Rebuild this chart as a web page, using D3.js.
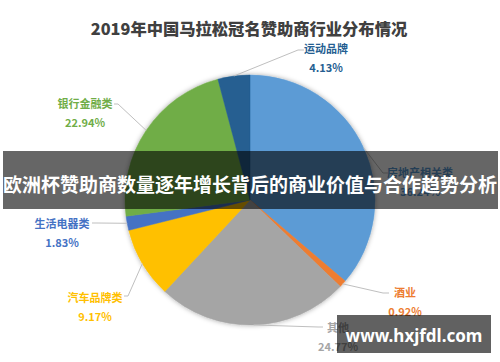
<!DOCTYPE html>
<html><head><meta charset="utf-8">
<script src="https://cdn.jsdelivr.net/npm/d3@7"></script>
<style>
html,body{margin:0;padding:0;background:#fff;}
svg{display:block;}
</style>
</head><body>
<svg id="c" width="500" height="362"></svg>
<script>
const title = "2019年中国马拉松冠名赞助商行业分布情况";
const categories = ["房地产相关类","酒业","其他","汽车品牌类","生活电器类","银行金融类","运动品牌"];
const values = [36.24, 0.92, 24.77, 9.17, 1.83, 22.94, 4.13];
const colors = ["#5B9BD5","#ED7D31","#A5A5A5","#FFC000","#4472C4","#70AD47","#255E91"];
const bannerText = "欧洲杯赞助商数量逐年增长背后的商业价值与合作趋势分析";
const watermark = "www.hxjfdl.com";

// label layout: text center x, name y, elbow point, end point
const labelLayout = [
  {x:420, y:172, elbow:[383,173], end:[388,173]},
  {x:405, y:292, elbow:[383,293], end:[389,293]},
  {x:338, y:327, elbow:[318,327], end:[323,327]},
  {x:95,  y:297, elbow:[128,296], end:[124,296]},
  {x:62,  y:223, elbow:[97,223],  end:[92,223]},
  {x:85,  y:103, elbow:[118,104], end:[114,104]},
  {x:326, y:48,  elbow:[298,50],  end:[304,50]}
];

const svg = d3.select("#c");
const cx = 250, cy = 200, R = 125;

const defs = svg.append("defs");
const f = defs.append("filter").attr("id","sh").attr("x","-20%").attr("y","-20%").attr("width","140%").attr("height","140%");
f.append("feDropShadow").attr("dx",0).attr("dy",0).attr("stdDeviation",2.5).attr("flood-color","#000").attr("flood-opacity",0.35);

svg.append("text").attr("x",249).attr("y",28).attr("text-anchor","middle")
  .attr("dominant-baseline","central")
  .attr("font-family","'Noto Sans CJK SC', sans-serif").attr("font-weight","900")
  .attr("font-size",16.3).attr("fill","#404040").text(title);

const data = categories.map((c,i)=>({name:c, value:values[i], color:colors[i], lay:labelLayout[i]}));
const pie = d3.pie().sort(null).value(d=>d.value).startAngle(0).endAngle(2*Math.PI);
const arcs = pie(data);
const arc = d3.arc().innerRadius(0).outerRadius(R);
const edgeArc = d3.arc().innerRadius(R).outerRadius(R);

const g = svg.append("g").attr("transform",`translate(${cx},${cy})`);
g.append("g").attr("filter","url(#sh)").selectAll("path").data(arcs).enter().append("path")
  .attr("d",arc).attr("fill",d=>d.data.color).attr("stroke",d=>d.data.color).attr("stroke-width",0.5);

// leader lines
svg.append("g").selectAll("polyline").data(arcs).enter().append("polyline")
  .attr("points",d=>{
    const p = edgeArc.centroid(d);
    return [[p[0]+cx,p[1]+cy], d.data.lay.elbow, d.data.lay.end].map(q=>q.join(",")).join(" ");
  })
  .attr("fill","none").attr("stroke","#BFBFBF").attr("stroke-width",1);

const lg = svg.append("g").attr("font-family","'Noto Sans CJK SC', sans-serif").attr("font-weight","bold").attr("font-size",11);
lg.selectAll("text.n").data(data).enter().append("text").attr("class","n")
  .attr("x",d=>d.lay.x).attr("y",d=>d.lay.y).attr("text-anchor","middle").attr("dominant-baseline","central")
  .attr("fill",d=>d.color).text(d=>d.name);
lg.selectAll("text.v").data(data).enter().append("text").attr("class","v")
  .attr("x",d=>d.lay.x).attr("y",d=>d.lay.y+18.5).attr("text-anchor","middle").attr("dominant-baseline","central")
  .attr("fill",d=>d.color).text(d=>d3.format(".2f")(d.value)+"%");

// overlay banner
svg.append("rect").attr("x",3).attr("y",151).attr("width",495).attr("height",58).attr("fill","rgba(0,0,0,0.6)");
svg.append("text").attr("x",250).attr("y",183).attr("text-anchor","middle").attr("dominant-baseline","central")
  .attr("font-family","'Noto Sans CJK SC', sans-serif").attr("font-weight","bold").attr("font-size",19)
  .attr("fill","#fff").text(bannerText);

// watermark
svg.append("rect").attr("x",337).attr("y",315).attr("width",154).attr("height",38).attr("fill","rgba(0,0,0,0.62)");
svg.append("text").attr("x",414).attr("y",335).attr("text-anchor","middle").attr("dominant-baseline","central")
  .attr("font-family","'Noto Sans', 'DejaVu Sans', sans-serif").attr("font-weight","bold").attr("font-size",17)
  .attr("fill","#fff").text(watermark);
</script>
</body></html>
